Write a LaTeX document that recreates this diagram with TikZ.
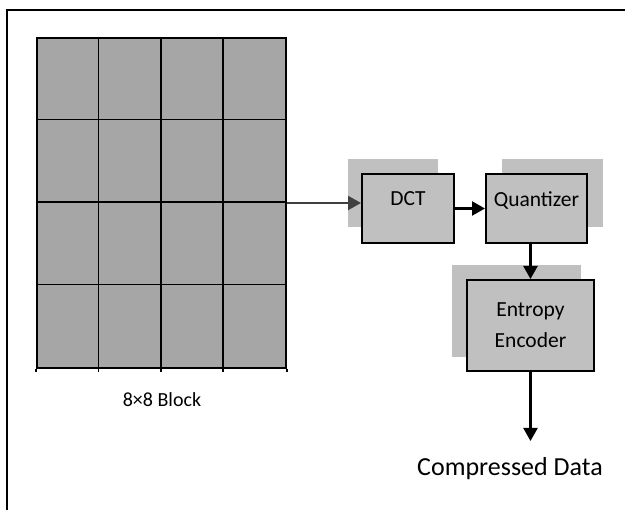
\documentclass[tikz,border=0pt]{standalone}
\usepackage{fontspec}
\setmainfont{Carlito}
\usetikzlibrary{arrows.meta,positioning,calc}

\begin{document}
\begin{tikzpicture}[x=1pt,y=-1pt]
\tikzset{
  procbox/.style={rectangle,draw,line width=2pt,fill=boxgray,inner sep=0pt,align=center,font=\fontsize{21.5}{31}\selectfont},
  shadowbox/.style={rectangle,fill=boxgray,inner sep=0pt},
  directed/.style={-{Triangle[length=13pt,width=14pt]},line width=2.2pt},
  gridline/.style={line width=1.7pt}
}
\definecolor{boxgray}{RGB}{192,192,192}
\definecolor{cellgray}{RGB}{166,166,166}
\definecolor{inkgray}{RGB}{64,64,64}
\useasboundingbox (0,0) rectangle (625,510);
\draw[line width=2.8pt] (7,510) -- (7,10) -- (625,10);
% 8x8 block
\node[rectangle,draw,gridline,fill=cellgray,minimum width=249pt,minimum height=330pt,inner sep=0pt] (n_blk) at (161.5,203) {};
\foreach \i in {1,2,3} {
  \draw[gridline] ($(n_blk.north west)+(62.25*\i,0)$) -- ($(n_blk.south west)+(62.25*\i,3)$);
  \draw[gridline] ($(n_blk.north west)+(0,82.5*\i)$) -- ($(n_blk.north east)+(0,82.5*\i)$);
}
\draw[gridline] (n_blk.south west) -- ++(0,3);
\draw[gridline] (n_blk.south east) -- ++(0,3);
\node[font=\fontsize{20}{24}\selectfont] (n_lbl) at (162,400) {8×8 Block};
% shadows
\node[shadowbox,minimum width=90pt,minimum height=68pt] (n_dct_sh) at (393,193) {};
\node[shadowbox,minimum width=101pt,minimum height=68pt] (n_quant_sh) at (552.5,193) {};
\node[shadowbox,minimum width=129pt,minimum height=92pt] (n_ent_sh) at (516.5,311) {};
% stages
\node[procbox,minimum width=92pt,minimum height=69pt] (n_dct) at (408,208.5) {\raisebox{19pt}{DCT}};
\node[procbox,minimum width=101pt,minimum height=69pt] (n_quant) at (536.5,208.5) {\raisebox{19pt}{Quantizer}};
\node[procbox,minimum width=127pt,minimum height=91pt] (n_ent) at (530.5,325.5) {Entropy\\Encoder};
\coordinate (c_out) at (530.5,441);
\node[font=\fontsize{26}{30}\selectfont] (n_out) at (510,469) {Compressed Data};
\draw[directed,inkgray] (n_blk.east) -- (n_blk.east -| n_dct.west);
\draw[directed] (n_dct) -- (n_quant);
\draw[directed] (n_ent.north |- n_quant.south) -- (n_ent.north);
\draw[directed] (n_ent) -- (c_out);
\end{tikzpicture}
\end{document}
